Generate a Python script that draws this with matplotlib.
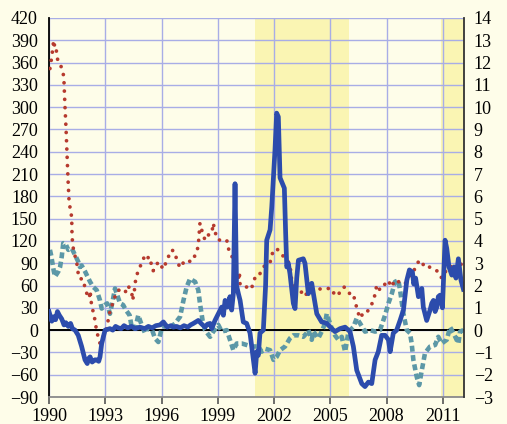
import numpy as np
import matplotlib
matplotlib.use('Agg')
import matplotlib.pyplot as plt

# blue solid series (left axis units)
blue_t = [0.0, 0.15, 0.25, 0.35, 0.45, 0.55, 0.68, 0.8, 0.9, 1.03, 1.15, 1.25, 1.39, 1.56,
          1.74, 1.92, 2.04, 2.12, 2.19, 2.3, 2.45, 2.54, 2.65, 2.72, 2.81, 2.99, 3.25, 3.4,
          3.55, 3.7, 3.85, 4.0, 4.2, 4.4, 4.6, 4.85, 5.1, 5.3, 5.5, 5.7, 5.92, 6.1, 6.3,
          6.5, 6.63, 6.8, 7.0, 7.2, 7.4, 7.55, 7.7, 7.96, 8.15, 8.32, 8.45, 8.59, 8.68,
          8.85, 9.03, 9.21, 9.3, 9.39, 9.51, 9.65, 9.74, 9.83, 9.92, 10.0, 10.1, 10.19,
          10.36, 10.54, 10.72, 10.81, 10.99, 11.08, 11.16, 11.25, 11.43, 11.55, 11.61,
          11.79, 11.88, 12.05, 12.14, 12.23, 12.32, 12.55, 12.62, 12.68, 12.76, 12.85,
          13.03, 13.12, 13.21, 13.3, 13.56, 13.65, 13.83, 14.01, 14.1, 14.28, 14.54,
          14.72, 14.81, 15.08, 15.25, 15.52, 15.79, 16.05, 16.23, 16.41, 16.68, 16.85,
          17.03, 17.21, 17.39, 17.56, 17.74, 17.92, 18.1, 18.19, 18.36, 18.54, 18.72,
          18.9, 19.08, 19.22, 19.38, 19.45, 19.55, 19.7, 19.88, 19.96, 20.14, 20.23,
          20.32, 20.41, 20.5, 20.59, 20.68, 20.76, 20.85, 20.98, 21.12, 21.21, 21.33,
          21.48, 21.6, 21.7, 21.83, 21.97, 22.1]
blue_v = [25, 12, 18, 14, 25, 20, 15, 7, 10, 5, 9, 2, 0, -7,
          -22, -40, -45, -38, -36, -43, -40, -40, -42, -36, -18, 0, 2, 0,
          5, 3, 2, 6, 3, 5, 2, 4, 2, 5, 3, 6, 7, 11, 4,
          6, 4, 5, 3, 6, 4, 7, 9, 13, 8, 4, 8, 9, 2,
          13, 22, 31, 20, 40, 31, 45, 27, 49, 197, 60, 49, 40,
          11, 9, -4, -22, -58, -29, -34, -4, 0, 60, 121,
          135, 166, 242, 292, 287, 205, 191, 130, 85, 90, 76,
          36, 29, 70, 94, 96, 90, 49, 63, 49, 22, 11,
          10, 9, 2, -2, 2, 4, -2, -22, -54, -72, -76,
          -70, -72, -40, -29, -7, -7, -13, -29, -4, 0, 13,
          27, 67, 81, 78, 62, 70, 45, 56, 31, 13, 20,
          27, 36, 40, 25, 31, 45, 47, 30, 121, 110, 85,
          74, 85, 70, 96, 67, 55]

# red dotted series
red_t = [0.05, 0.15, 0.25, 0.3, 0.36, 0.41, 0.48, 0.64, 0.76, 0.8, 0.85, 0.91, 0.96,
         1.01, 1.07, 1.14, 1.21, 1.23, 1.3, 1.35, 1.42, 1.48, 1.53, 1.62, 1.78, 1.87,
         1.92, 2.15, 2.19, 2.28, 2.42, 2.45, 2.51, 2.6, 2.72, 2.84, 2.95, 3.04, 3.25,
         3.52, 3.7, 4.05, 4.21, 4.41, 4.46, 4.59, 4.62, 4.76, 4.94, 5.12, 5.28, 5.3,
         5.48, 5.56, 5.83, 6.1, 6.28, 6.54, 6.72, 6.81, 6.99, 7.25, 7.61, 7.88, 7.96,
         8.05, 8.14, 8.32, 8.5, 8.68, 8.76, 8.85, 9.03, 9.3, 9.48, 9.56, 9.74, 9.92,
         10.1, 10.15, 10.19, 10.36, 10.63, 10.77, 10.9, 11.02, 11.25, 11.48, 11.7,
         11.84, 11.91, 12.14, 12.41, 12.59, 12.71, 12.85, 12.91, 12.94, 13.07, 13.21,
         13.39, 13.56, 13.65, 13.92, 14.19, 14.36, 14.63, 15.08, 15.25, 15.56, 15.73,
         15.96, 16.14, 16.27, 16.37, 16.46, 16.59, 16.73, 16.91, 17.12, 17.3, 17.39,
         17.48, 17.65, 17.92, 18.1, 18.24, 18.36, 18.54, 18.72, 18.99, 19.16, 19.34,
         19.52, 19.7, 19.84, 20.02, 20.23, 20.44, 20.76, 20.94, 21.12, 21.39, 21.69,
         21.87, 22.08]
red_v = [352, 368, 390, 382, 383, 372, 361, 355, 345, 334, 302, 270, 237,
         205, 173, 162, 152, 125, 109, 103, 97, 91, 80, 69, 69, 65,
         54, 43, 53, 31, 20, 11, 4, -7, -18, -12, -5, -1, 25,
         45, 54, 50, 60, 51, 40, 59, 69, 80, 90, 101, 100, 90,
         90, 80, 92, 82, 94, 108, 105, 94, 84, 94, 92, 105, 114,
         144, 135, 121, 128, 130, 144, 132, 121, 122, 121, 110, 101, 81,
         69, 78, 61, 58, 58, 55, 63, 74, 76, 86, 88,
         94, 103, 110, 101, 98, 95, 86, 76, 65, 56, 46,
         49, 54, 49, 46, 52, 55, 56, 56, 46, 51, 58,
         53, 43, 44, 34, 25, 16, 22, 22, 31, 39, 49,
         61, 54, 62, 67, 58, 63, 68, 63, 62, 72, 75,
         83, 92, 94, 85, 86, 82, 79, 70, 78, 86, 82,
         92, 85]

# teal dashed series
teal_t = [0.05, 0.12, 0.25, 0.32, 0.5, 0.59, 0.68, 0.76, 0.9, 1.03, 1.21, 1.39, 1.56,
          1.65, 1.74, 1.92, 2.19, 2.36, 2.54, 2.72, 2.81, 2.99, 3.1, 3.25, 3.4, 3.52,
          3.79, 3.95, 4.1, 4.3, 4.41, 4.6, 4.76, 4.94, 5.12, 5.3, 5.5, 5.65, 5.83, 6.01,
          6.2, 6.37, 6.54, 6.72, 6.99, 7.17, 7.34, 7.52, 7.79, 7.96, 8.05, 8.19, 8.32,
          8.59, 8.76, 9.03, 9.21, 9.48, 9.65, 9.83, 10.01, 10.28, 10.54, 10.81, 10.99,
          11.16, 11.34, 11.52, 11.79, 11.97, 12.14, 12.32, 12.59, 12.85, 13.03, 13.3,
          13.56, 13.74, 13.83, 14.01, 14.1, 14.36, 14.54, 14.72, 14.81, 15.08, 15.25,
          15.43, 15.61, 15.79, 15.97, 16.23, 16.41, 16.59, 16.85, 17.12, 17.39, 17.65,
          17.92, 18.1, 18.28, 18.45, 18.63, 18.72, 18.9, 19.08, 19.25, 19.34, 19.43,
          19.61, 19.74, 19.88, 20.05, 20.32, 20.59, 20.76, 20.94, 21.21, 21.39, 21.57,
          21.83, 21.92, 22.1]
teal_v = [108, 100, 80, 72, 79, 85, 99, 117, 115, 108, 110, 101, 92,
          85, 87, 79, 65, 58, 54, 40, 29, 34, 36, 22, 40, 56,
          36, 34, 27, 20, 4, 2, 20, 7, -4, 4, 0, -11, -16, 2,
          7, 4, 5, 9, 18, 40, 58, 69, 65, 54, 36, 13, 0,
          -9, -2, 7, -2, 0, -13, -27, -18, -18, -20, -22, -22,
          -22, -29, -25, -27, -40, -36, -27, -22, -11, -7, -7,
          -9, -4, 0, -13, -2, -11, -2, 9, 22, 2, -7,
          -13, -9, -29, -2, 4, 16, 9, -2, 0, -2, 0,
          20, 36, 49, 65, 67, 54, 22, 0, -4, -18, -40,
          -63, -74, -54, -31, -22, -20, -9, -18, -13, 4, -4,
          -18, -2, 0]

shade_periods = [(2001.0, 2006.0), (2010.92, 2012.2)]
year_ticks = [1990, 1993, 1996, 1999, 2002, 2005, 2008, 2011]
left_ticks = list(range(-90, 421, 30))
right_ticks = list(range(-3, 15))

bg = '#FEFDE9'
fig = plt.figure(figsize=(5.07, 4.24), dpi=100, facecolor=bg)
ax = fig.add_axes([49 / 507, 1 - 397 / 424, (464 - 49) / 507, (397 - 18) / 424])
ax.set_facecolor(bg)

for a, b in shade_periods:
    ax.axvspan(a, b, color='#FAF5B3', lw=0, zorder=0.2)

ax.set_axisbelow(True)
ax.grid(True, color='#A8ADE6', lw=1.0)
ax.axhline(0, color='black', lw=1.4, zorder=1.5)

ax.plot(1990 + np.array(teal_t), teal_v, color='#5C98A7', lw=3.3,
        dashes=(1.3, 0.75), zorder=2)
ax.plot(1990 + np.array(red_t), red_v, color='#B63A2E', lw=2.7,
        dashes=(0.01, 2.2), dash_capstyle='round', zorder=3)
ax.plot(1990 + np.array(blue_t), blue_v, color='#2C4CAC', lw=3.4,
        solid_joinstyle='round', zorder=4)

ax.set_xlim(1990, 2012.13)
ax.set_ylim(-90, 420)
ax.set_xticks(year_ticks)
ax.set_xticklabels([str(y) for y in year_ticks])
ax.set_yticks(left_ticks)

ax2 = ax.twinx()
ax2.set_ylim(-3, 14)
ax2.set_yticks(right_ticks)

for a in (ax, ax2):
    for s in a.spines.values():
        s.set_visible(False)
ax.spines['left'].set_visible(True)
ax.spines['left'].set_color('black')
ax.spines['left'].set_linewidth(1.3)
ax.spines['bottom'].set_visible(True)
ax.spines['bottom'].set_color('#8A8A8A')
ax.spines['bottom'].set_linewidth(1.3)
ax2.spines['right'].set_visible(True)
ax2.spines['right'].set_color('#333333')
ax2.spines['right'].set_linewidth(1.3)

ax.tick_params(axis='y', length=0, pad=8, labelsize=13)
ax.tick_params(axis='x', length=5, width=1.2, color='#555555', pad=3, labelsize=13)
ax2.tick_params(axis='y', length=0, pad=7, labelsize=13)
for lab in ax.get_xticklabels() + ax.get_yticklabels() + ax2.get_yticklabels():
    lab.set_fontfamily('Liberation Serif')

fig.savefig('out.png', dpi=100, facecolor=bg)
